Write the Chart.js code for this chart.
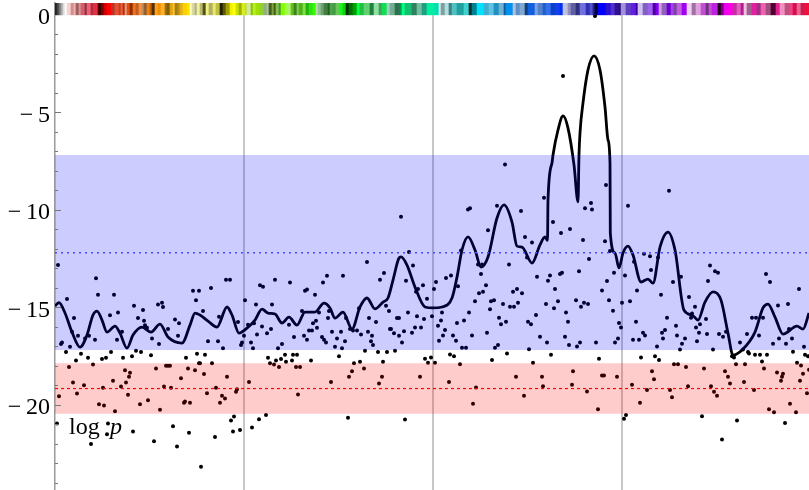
<!DOCTYPE html>
<html>
<head>
<meta charset="utf-8">
<title>log p</title>
<script src="https://cdn.jsdelivr.net/npm/chart.js@4"></script>
<style>
  html, body { margin: 0; padding: 0; background: #fff; }
  canvas { display: block; }
</style>
</head>
<body>
<canvas id="logChart" width="809" height="490"></canvas>
<script>
// 軸の目盛り
const gridX = [189, 378, 567];
const yTicks = [0, -1, -2, -3, -4, -5, -6, -7, -8, -9, -10, -11, -12, -13, -14, -15, -16, -17, -18, -19, -20, -21, -22, -23, -24];
const yMajor = [0, -5, -10, -15, -20];

// 帯と破線の値
const blueBand = [-7.19, -17.19];
const redBand = [-17.86, -20.45];
const blueMean = -12.2;
const redMean = -19.16;

// 曲線
const curveX = [0, 4, 10, 17, 25, 32, 38, 42, 47, 52, 60, 65, 72, 78, 87, 96, 105, 113, 127, 135,
  140, 145, 153, 162, 172, 177, 184, 192, 200, 207, 213, 220, 227, 234, 242, 250, 260, 269, 275, 280,
  288, 297, 305, 312, 320, 328, 333, 338, 344, 346, 352, 360, 370, 378, 387, 397, 402, 407, 413, 420,
  426, 433, 442, 449, 457, 462, 467, 477, 485, 490, 492.5, 493, 497, 498, 503, 508, 513, 519, 523, 524,
  525, 528, 533, 539, 545, 550, 553, 555, 555.3, 560, 564, 568, 573, 578, 586, 593, 598, 605, 613, 620,
  629, 637, 643, 650, 658, 666, 673, 678, 687, 700, 708, 713, 720, 728, 742, 748, 754];
const curveY = [-14.93, -14.76, -15.29, -16.27, -17.04, -16.42, -15.39, -15.19, -15.65, -16.27, -15.96, -16.32, -17.09, -16.42, -16.01, -16.27, -15.86, -16.52, -16.83, -15.91,
  -15.29, -15.39, -15.70, -16.01, -14.98, -15.39, -16.32, -16.06, -15.65, -15.09, -15.29, -15.34, -15.80, -15.50, -15.91, -15.24, -15.24, -14.78, -15.03, -15.55,
  -15.24, -16.11, -14.98, -14.52, -15.08, -14.73, -14.52, -13.60, -12.47, -12.41, -12.83, -13.96, -14.98, -15.03, -14.98, -14.52, -13.45, -12.06, -11.39, -12.06,
  -12.93, -12.42, -10.42, -9.75, -10.63, -11.86, -11.91, -12.73, -11.80, -11.39, -11.57, -9.50, -7.60, -7.19, -5.91, -5.19, -5.81, -7.70, -9.59, -7.19,
  -6.06, -4.52, -2.83, -2.11, -2.83, -4.73, -6.42, -7.60, -11.19, -12.21, -12.98, -12.21, -11.86, -12.32, -13.70, -13.55, -13.76, -11.91, -11.14, -12.06,
  -15.14, -15.39, -15.65, -14.73, -14.21, -14.63, -16.32, -17.45, -17.19, -16.27, -15.03, -14.83, -15.50, -16.37, -15.96, -16.11, -15.29];

// 点
const dotX = [3, 41, 43, 59, 12, 138, 144, 141, 103, 107, 108, 79, 88, 55, 63, 19, 83, 89, 90, 92,
  120, 124, 17, 23, 34, 30, 40, 7, 6, 15, 62, 67, 97, 104, 113, 123, 11, 26, 33, 21,
  47, 51, 56, 68, 77, 81, 86, 96, 131, 142, 38, 14, 70, 75, 74, 101, 111, 113, 115, 133,
  140, 144, 18, 58, 71, 126, 29, 48, 66, 109, 116, 22, 4, 73, 93, 44, 49, 85, 129, 130,
  135, 60, 105, 2, 53, 118, 78, 134, 52, 99, 36, 122,
  312, 272, 288, 329, 325, 268, 171, 175, 220, 235, 205, 208, 156, 252, 250, 260, 190, 201, 217, 148,
  247, 274, 264, 304, 331, 334, 164, 273, 314, 342, 344, 183, 199, 193, 261, 258, 321, 207, 234, 262,
  216, 254, 257, 277, 286, 291, 295, 298, 302, 313, 335, 336, 212, 202, 189, 249, 239, 267, 306, 317,
  339, 344, 153, 163, 187, 196, 252, 269, 271, 282, 290, 316, 186, 227, 168, 198, 223, 280, 287, 318,
  310, 323, 332, 340, 150, 230, 238, 242, 284, 213, 226, 221, 237, 256, 231, 157, 145, 215, 219, 299,
  305, 328, 224, 241, 245, 309, 297, 149, 172, 294, 327, 194, 276, 324, 161, 182, 181, 152, 167, 170,
  243, 165, 179, 211, 176, 204, 293, 197, 185, 178, 160, 146,
  450, 489, 442, 415, 413, 466, 530, 537, 536, 346, 498, 433, 506, 515, 470, 477, 528, 406, 354, 472,
  534, 423, 427, 358, 454, 524, 426, 482, 391, 396, 495, 505, 507, 351, 381, 493, 368, 379, 403, 431,
  361, 363, 458, 462, 424, 428, 467, 500, 372, 420, 436, 439, 463, 503, 521, 529, 533, 448, 455, 459,
  491, 526, 499, 435, 353, 387, 414, 511, 481, 362, 377, 444, 369, 386, 409, 451, 513, 473, 476, 402,
  446, 383, 360, 366, 390, 349, 357, 432, 388, 398, 417, 485, 510, 384, 401, 492, 541, 347, 525, 514,
  522, 443, 440, 407, 411, 474, 395, 399, 452, 496, 370, 376, 373, 380, 437, 405, 478, 544, 518, 365,
  461, 487, 394, 488, 517, 421, 532, 469, 418, 543, 350,
  551, 573, 614, 550, 555, 589, 595, 603, 579, 559, 596, 655, 660, 663, 570, 552, 626, 618, 653, 711,
  715, 582, 547, 744, 606, 554, 567, 575, 634, 640, 723, 733, 558, 637, 636, 612, 651, 697, 701, 708,
  581, 564, 566, 621, 641, 645, 610, 607, 588, 590, 644, 652, 664, 668, 671, 692, 704, 622, 734, 608,
  630, 724, 737, 563, 560, 578, 584, 642, 627, 685, 718, 731, 749, 602, 625, 658, 688, 738, 693, 694,
  700, 705, 712, 677, 679, 750, 753, 586, 600, 604, 707, 742, 746, 619, 623, 681, 690, 631, 649, 709,
  597, 670, 722, 728, 754, 547, 549, 562, 673, 727, 748, 599, 689, 726, 745, 675, 577, 633, 656, 592,
  615, 699, 659, 752, 617, 662, 585, 735, 714, 719, 741, 571, 569, 647, 682, 730, 667, 540, 508];
const dotY = [-12.83, -13.51, -14.35, -14.35, -14.57, -14.15, -14.15, -14.64, -14.85, -14.76, -14.98, -14.92, -15.14, -15.41, -15.26, -15.55, -15.55, -15.69, -15.91, -16.04,
  -15.62, -15.82, -16.25, -16.45, -16.45, -16.59, -16.66, -16.80, -16.88, -17.02, -16.66, -16.25, -16.59, -16.88, -16.11, -16.45, -17.29, -17.38, -17.58, -17.72,
  -17.65, -17.58, -17.29, -17.58, -17.51, -17.22, -17.29, -17.45, -17.58, -17.38, -17.93, -18.06, -18.22, -18.35, -18.56, -18.13, -17.99, -17.99, -17.99, -18.13,
  -18.22, -17.86, -18.85, -18.76, -18.85, -18.63, -18.99, -19.12, -19.05, -19.05, -19.12, -19.41, -19.55, -19.48, -19.76, -19.96, -20.03, -19.96, -19.89, -19.82,
  -19.89, -20.32, -20.25, -20.95, -20.95, -21.09, -21.36, -21.43, -21.50, -21.86, -22.00, -22.13,
  -12.68, -13.38, -13.38, -13.24, -13.58, -13.72, -13.58, -13.58, -13.58, -13.72, -13.86, -13.94, -14.01, -14.08, -14.15, -14.35, -14.64, -14.85, -14.85, -15.19,
  -15.19, -15.19, -15.26, -15.05, -14.92, -15.19, -15.48, -15.55, -15.55, -15.55, -15.55, -15.75, -15.82, -15.89, -15.69, -15.82, -15.75, -15.98, -15.89, -16.04,
  -16.11, -16.18, -16.18, -16.25, -16.25, -15.55, -16.11, -16.18, -16.18, -16.25, -16.11, -16.11, -16.32, -16.39, -16.45, -16.45, -16.52, -16.52, -16.39, -16.45,
  -16.32, -16.45, -16.73, -16.73, -16.80, -16.80, -16.66, -16.66, -16.80, -16.59, -16.73, -16.73, -16.93, -16.88, -17.09, -17.09, -17.09, -17.02, -17.09, -16.93,
  -17.22, -17.29, -17.29, -17.22, -17.43, -17.43, -17.43, -17.43, -17.51, -17.58, -17.65, -17.72, -17.72, -17.72, -17.79, -17.86, -17.86, -17.86, -17.93, -17.86,
  -17.79, -17.79, -18.06, -18.06, -18.06, -18.13, -18.28, -18.42, -18.56, -18.56, -18.56, -18.83, -18.83, -18.90, -19.12, -19.19, -19.33, -19.40, -19.53, -19.67,
  -19.46, -19.89, -20.59, -20.52, -20.80, -20.73, -20.66, -21.16, -21.29, -21.36, -21.65, -23.17,
  -7.68, -9.38, -9.79, -9.92, -9.99, -10.06, -9.92, -9.99, -9.65, -10.35, -10.62, -11.05, -11.19, -10.98, -11.39, -11.68, -11.55, -12.09, -12.16, -12.45,
  -12.52, -12.80, -12.80, -12.86, -12.80, -13.15, -13.29, -13.43, -13.50, -13.36, -13.36, -13.29, -13.22, -13.63, -13.70, -13.63, -13.86, -14.06, -13.92, -13.86,
  -14.20, -14.06, -14.20, -14.06, -14.27, -14.20, -14.27, -14.06, -14.56, -14.69, -14.69, -14.63, -14.76, -14.69, -14.63, -14.76, -14.83, -14.83, -14.97, -14.97,
  -14.83, -14.97, -15.04, -15.10, -15.26, -15.26, -15.26, -15.26, -15.39, -15.46, -15.46, -15.53, -15.60, -15.67, -15.67, -15.74, -15.74, -15.74, -15.87, -15.80,
  -15.87, -15.94, -16.03, -16.03, -16.16, -16.23, -16.30, -16.30, -16.44, -16.44, -16.44, -16.51, -16.51, -16.71, -16.71, -16.80, -16.80, -16.80, -16.80, -16.93,
  -17.00, -16.93, -17.07, -17.07, -17.07, -17.14, -17.41, -17.50, -17.36, -17.43, -17.63, -17.57, -17.84, -17.84, -17.70, -17.91, -17.84, -17.63, -18.27, -18.56,
  -18.56, -18.56, -18.83, -19.04, -18.97, -19.11, -19.31, -19.53, -19.94, -20.22, -20.75,
  -8.73, -9.79, -9.02, -11.61, -12.11, -12.25, -12.38, -12.45, -12.66, -13.22, -13.09, -12.86, -13.15, -13.22, -13.36, -13.65, -13.43, -13.70, -13.65, -13.29,
  -13.70, -14.13, -14.13, -14.06, -14.35, -14.63, -14.76, -14.69, -14.47, -14.97, -14.90, -14.83, -15.17, -15.31, -15.53, -15.53, -15.60, -15.53, -15.53, -15.53,
  -15.74, -15.80, -16.03, -15.94, -16.03, -15.87, -16.16, -16.30, -16.30, -16.44, -16.30, -16.37, -16.37, -16.51, -16.25, -16.37, -16.44, -16.44, -16.11, -16.59,
  -16.59, -16.59, -16.59, -16.59, -16.80, -16.66, -16.66, -16.73, -16.87, -16.80, -16.87, -16.87, -17.02, -17.00, -17.16, -17.16, -17.16, -17.28, -17.29, -17.36,
  -17.43, -17.43, -17.43, -17.50, -17.57, -17.43, -17.50, -17.57, -17.50, -17.70, -17.77, -17.84, -17.98, -17.91, -17.91, -17.91, -17.91, -18.05, -18.13, -18.13,
  -18.27, -18.27, -18.34, -18.40, -18.20, -18.49, -18.49, -18.56, -18.56, -18.56, -18.40, -18.69, -18.83, -18.76, -18.76, -18.90, -18.97, -19.04, -19.04, -19.24,
  -19.24, -19.24, -19.33, -19.40, -19.60, -19.53, -19.89, -19.94, -20.22, -20.37, -20.37, -20.51, -20.71, -20.58, -20.80, -20.93, -21.77, -0.06, -3.14];

// 上端のスペクトル帯
const stripeRange = [0, 0.6];
const stripeEnds = [2, 4, 6, 8, 10, 12, 16, 19, 21, 24, 26, 30, 32, 36, 38, 43, 44, 46, 49, 52,
  56, 58, 60, 64, 66, 68, 70, 72, 75, 78, 81, 84, 87, 89, 92, 95, 97, 100, 103, 106,
  110, 112, 115, 118, 120, 123, 125, 128, 132, 135, 137, 140, 142, 145, 148, 151, 154, 158, 161, 165,
  168, 171, 175, 178, 181, 184, 187, 190, 192, 196, 198, 201, 205, 209, 212, 214, 217, 219, 221, 224,
  226, 230, 233, 236, 239, 242, 244, 248, 251, 254, 258, 261, 263, 266, 269, 273, 275, 278, 281, 284,
  288, 291, 294, 298, 302, 305, 309, 315, 319, 324, 327, 332, 335, 340, 345, 347, 350, 357, 362, 367,
  372, 379, 384, 386, 390, 394, 397, 402, 409, 414, 417, 422, 429, 434, 439, 444, 449, 451, 458, 461,
  465, 470, 473, 480, 483, 488, 491, 496, 500, 505, 508, 513, 516, 521, 525, 531, 535, 538, 540, 543,
  551, 556, 560, 565, 566, 571, 576, 581, 583, 588, 593, 598, 601, 604, 607, 612, 616, 619, 622, 627,
  632, 637, 641, 646, 651, 654, 657, 663, 666, 669, 674, 678, 682, 686, 689, 692, 697, 702, 706, 711,
  716, 721, 725, 730, 735, 738, 742, 746, 749, 754];
const stripeColors = ['#222222', '#444444', '#777777', '#aaaaaa', '#dddddd', '#ffffff', '#f8d0d0', '#d09090', '#f0b0b0', '#a06060', '#e09090', '#d06070', '#903040', '#f06070', '#a03040', '#e03040', '#700000', '#200000', '#800000', '#d00000',
  '#ff0000', '#e02020', '#a04030', '#e85030', '#c04020', '#f06040', '#b03010', '#e0a080', '#e05010', '#903000', '#f07020', '#c06020', '#f09040', '#c09060', '#906030', '#f08010', '#c06000', '#503000', '#ffa020', '#f09000',
  '#ffb030', '#a07010', '#806000', '#e0a010', '#ffc030', '#a08010', '#c09010', '#e0b020', '#ffd000', '#ffe000', '#ffffc0', '#d8d8a0', '#b0b080', '#f0f0a0', '#b8b870', '#505020', '#f0f080', '#b0b060', '#e8e870', '#c0c040',
  '#202000', '#605800', '#a0a000', '#f0f000', '#ffff00', '#c8e000', '#a0b000', '#d8f020', '#c0e030', '#d0e8a0', '#90c000', '#b0f020', '#a0e000', '#90d030', '#90b080', '#b0c090', '#406020', '#80a040', '#406010', '#80c050',
  '#509030', '#80ff00', '#a0ff40', '#b0f070', '#60c020', '#408020', '#80d050', '#50b020', '#80e040', '#20b010', '#30e010', '#30ff00', '#c0d8b0', '#90c090', '#70a070', '#408040', '#206020', '#50a050', '#40a040', '#70c060',
  '#20f020', '#10d010', '#003000', '#007000', '#00a000', '#00ff40', '#20c040', '#60d070', '#208040', '#90e0a0', '#40a060', '#10e050', '#a0d0c0', '#70b090', '#307050', '#00a050', '#00ff80', '#10c070', '#308060', '#70c0a0',
  '#20a080', '#00f0a0', '#00e0b0', '#e0f0f0', '#80a0a0', '#b0e0e0', '#408080', '#50c0c0', '#20a0a0', '#40d0d0', '#003030', '#008090', '#00e0ff', '#40b0d0', '#60c0e0', '#2090c0', '#70b0d0', '#1060a0', '#0090f0', '#b0c0e0',
  '#6090c0', '#80a8d0', '#104080', '#1060e0', '#80a0e0', '#5080d0', '#2060c0', '#3070f0', '#1040c0', '#1040f0', '#0030f0', '#c0c0e0', '#9090c0', '#6060a0', '#303080', '#7070e0', '#3030b0', '#5050d0', '#202080', '#000040',
  '#0000ff', '#3010d0', '#5030d0', '#301090', '#200060', '#a090e0', '#6040c0', '#6020e0', '#4000a0', '#d0c0f0', '#8060c0', '#a060f0', '#5000a0', '#8000f0', '#d0a0e0', '#9060c0', '#7000d0', '#a040f0', '#8040a0', '#c060e0',
  '#a000f0', '#f0d0f0', '#a070a0', '#e0a0e0', '#c050d0', '#703080', '#c050d0', '#c020e0', '#200020', '#800080', '#f000f0', '#ff00e0', '#c030a0', '#e060c0', '#b02090', '#f0c0e0', '#a06090', '#e020a0', '#a03080', '#f060b0',
  '#a05080', '#500030', '#e02090', '#f090c0', '#c05080', '#f04080', '#d01050', '#f06090', '#c02050', '#f01040'];

// ラベル
const axisLabel = { word: 'log', symbol: 'p', wordX: 14, symbolX: 55, y: -21.5 };

const xMax = 754;

// y軸の内向き目盛りとラベルを描く
const overlayPlugin = {
  id: 'overlay',
  afterDraw(chart) {
    const { ctx, scales } = chart;
    const left = chart.chartArea.left;
    ctx.save();
    ctx.strokeStyle = '#777777';
    ctx.lineWidth = 1;
    yTicks.forEach(v => {
      if (v === 0) return;
      const py = Math.round(scales.y.getPixelForValue(v)) + 0.5;
      const len = yMajor.includes(v) ? 6 : 3;
      ctx.beginPath();
      ctx.moveTo(left, py);
      ctx.lineTo(left + len, py);
      ctx.stroke();
    });
    ctx.fillStyle = '#000000';
    ctx.textBaseline = 'alphabetic';
    ctx.textAlign = 'left';
    const baseY = scales.y.getPixelForValue(axisLabel.y);
    ctx.font = '24px "Liberation Serif"';
    ctx.fillText(axisLabel.word, scales.x.getPixelForValue(axisLabel.wordX), baseY);
    ctx.font = 'italic 24px "Liberation Serif"';
    ctx.fillText(axisLabel.symbol, scales.x.getPixelForValue(axisLabel.symbolX), baseY);
    ctx.restore();
  }
};

function bandDataset(range, color) {
  return {
    type: 'line',
    order: 2,
    data: [{ x: 0, y: range[0] }, { x: xMax, y: range[0] }],
    backgroundColor: color,
    borderWidth: 0,
    pointRadius: 0,
    fill: { value: range[1] }
  };
}

function meanDataset(value, color, dash, width) {
  return {
    type: 'line',
    order: 1,
    data: [{ x: 0, y: value }, { x: xMax, y: value }],
    borderColor: color,
    borderWidth: width,
    borderDash: dash,
    pointRadius: 0,
    fill: false
  };
}

// 目盛りラベル分の余白を取らせない
function clearPadding(scale) {
  scale.paddingTop = 0;
  scale.paddingBottom = 0;
  scale.paddingLeft = 0;
  scale.paddingRight = 0;
}

const ctx = document.getElementById('logChart').getContext('2d');
new Chart(ctx, {
  data: {
    datasets: [
      {
        type: 'bar',
        indexAxis: 'y',
        order: 0,
        data: stripeEnds.map((end, i) => ({ x: [i === 0 ? 0 : stripeEnds[i - 1], end], y: stripeRange[1] / 2 })),
        backgroundColor: stripeColors,
        borderWidth: 0,
        barThickness: 12
      },
      bandDataset(blueBand, 'rgba(0, 0, 255, 0.2)'),
      bandDataset(redBand, 'rgba(255, 0, 0, 0.2)'),
      meanDataset(blueMean, '#4a4aff', [2, 4], 1.6),
      meanDataset(redMean, '#ff0000', [3, 3], 1.2),
      {
        type: 'line',
        order: 3,
        data: curveX.map((x, i) => ({ x: x, y: curveY[i] })),
        borderColor: '#000000',
        borderWidth: 2.8,
        cubicInterpolationMode: 'monotone',
        pointRadius: 0,
        fill: false
      },
      {
        type: 'line',
        order: 4,
        showLine: false,
        data: dotX.map((x, i) => ({ x: x, y: dotY[i] })),
        pointRadius: 2,
        pointBorderWidth: 0,
        pointBackgroundColor: '#000000',
        fill: false
      }
    ]
  },
  options: {
    responsive: false,
    animation: false,
    layout: { autoPadding: false, padding: { top: 3 } },
    plugins: {
      legend: { display: false },
      tooltip: { enabled: false }
    },
    scales: {
      x: {
        type: 'linear',
        offset: false,
        min: 0,
        max: xMax,
        afterBuildTicks: scale => { scale.ticks = gridX.map(v => ({ value: v })); },
        afterFit: scale => { scale.height = 0; clearPadding(scale); },
        ticks: { display: false },
        border: { display: false },
        grid: { offset: false, color: 'rgba(0, 0, 0, 0.22)', lineWidth: 2, drawTicks: false }
      },
      y: {
        type: 'linear',
        offset: false,
        min: -24.36,
        max: 0.6,
        afterBuildTicks: scale => { scale.ticks = yTicks.map(v => ({ value: v })); },
        afterFit: scale => { scale.width = 55; clearPadding(scale); },
        ticks: {
          autoSkip: false,
          padding: 5,
          labelOffset: 3,
          color: '#000000',
          font: { family: '"Liberation Serif"', size: 24 },
          callback: v => yMajor.includes(v) ? (v === 0 ? '0' : '\u2212\u2009' + Math.abs(v)) : ''
        },
        border: { display: true, color: '#999999', width: 1.5 },
        grid: { display: false, offset: false, drawTicks: false }
      }
    }
  },
  plugins: [overlayPlugin]
});
</script>
</body>
</html>
